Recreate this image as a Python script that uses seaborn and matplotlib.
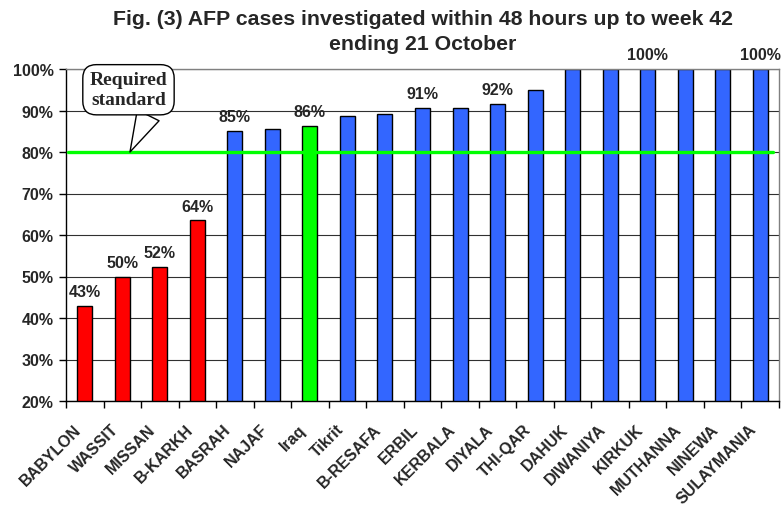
import matplotlib
matplotlib.use("Agg")
import matplotlib.pyplot as plt
import matplotlib.transforms as mtransforms
import numpy as np
import pandas as pd
import seaborn as sns
from matplotlib.ticker import FuncFormatter

# ---- data ----
categories = ["BABYLON", "WASSIT", "MISSAN", "B-KARKH", "BASRAH", "NAJAF", "Iraq",
              "Tikrit", "B-RESAFA", "ERBIL", "KERBALA", "DIYALA", "THI-QAR", "DAHUK",
              "DIWANIYA", "KIRKUK", "MUTHANNA", "NINEWA", "SULAYMANIA"]
values = [43.0, 50.0, 52.2, 63.5, 85.1, 85.6, 86.2, 88.7, 89.2, 90.7, 90.7, 91.6,
          94.9, 100, 100, 100, 100, 100, 100]
groups = ["below", "below", "below", "below", "above", "above", "national",
          "above", "above", "above", "above", "above", "above", "above",
          "above", "above", "above", "above", "above"]
value_labels = ["43%", "50%", "52%", "64%", "85%", "", "86%", "", "", "91%", "",
                "92%", "", "", "", "100%", "", "", "100%"]
required_standard = 80
y_ticks = [20, 30, 40, 50, 60, 70, 80, 90, 100]
title_lines = ["Fig. (3) AFP cases investigated within 48 hours up to week 42",
               "ending 21 October"]
callout_text = "Required\nstandard"

palette = {"below": "#FF0000", "above": "#3366FF", "national": "#00FF00"}

sns.set_theme(style="white")
plt.rcParams["font.family"] = ["Liberation Sans", "DejaVu Sans"]

W, H = 783, 506
fig = plt.figure(figsize=(W / 100, H / 100), dpi=100)
ax = fig.add_axes([66 / W, 1 - 402 / H, (779 - 66) / W, (402 - 70) / H])

df = pd.DataFrame({"region": categories, "value": values, "group": groups})
sns.barplot(data=df, x="region", y="value", hue="group", palette=palette,
            dodge=False, width=0.4, edgecolor="black", linewidth=1.0,
            saturation=1, legend=False, ax=ax)

ax.set_xlim(-0.5, len(categories) - 0.5)
ax.set_ylim(y_ticks[0], y_ticks[-1])
ax.set_yticks(y_ticks)
ax.yaxis.set_major_formatter(FuncFormatter(lambda v, p: f"{v:.0f}%"))
ax.yaxis.grid(True, color="#303030", linewidth=0.8)
ax.set_axisbelow(True)
ax.set_xlabel("")
ax.set_ylabel("")

# x ticks: marks between categories, rotated category names
ax.set_xticks(np.arange(len(categories)))
ax.set_xticklabels([""] * len(categories))
ax.tick_params(axis="x", which="major", length=0, bottom=True)
ax.set_xticks(np.arange(-0.5, len(categories), 1), minor=True)
ax.tick_params(axis="x", which="minor", length=5, width=1, color="black",
               direction="out", bottom=True)
lab_tr = ax.get_xaxis_transform() + mtransforms.ScaledTranslation(
    -0.065, -0.255, fig.dpi_scale_trans)
for i, name in enumerate(categories):
    ax.text(i, 0, name, transform=lab_tr, rotation=45, ha="right", va="center",
            rotation_mode="anchor", fontsize=11.5, fontweight="bold",
            clip_on=False)

ax.tick_params(axis="y", length=5, width=1, color="black", direction="out",
               left=True, pad=4, labelsize=11.5)
for lab in ax.get_yticklabels():
    lab.set_fontweight("bold")

for s in ["left", "bottom"]:
    ax.spines[s].set_color("black")
    ax.spines[s].set_linewidth(1)
for s in ["right", "top"]:
    ax.spines[s].set_color("#808080")
    ax.spines[s].set_linewidth(1)

# value labels
for i, (v, lab) in enumerate(zip(values, value_labels)):
    if lab:
        ax.annotate(lab, xy=(i, v), xytext=(0, 5), textcoords="offset points",
                    ha="center", va="bottom", fontsize=11.5, fontweight="bold",
                    annotation_clip=False)

# required standard line
ax.axhline(required_standard, xmin=0.003, xmax=0.992, color="#00FF00",
           linewidth=2.4, zorder=5)

# callout
ax.annotate(callout_text, xy=(1.205, required_standard), xytext=(1.165, 95.0),
            textcoords="data", ha="center", va="center",
            fontsize=14, fontweight="bold",
            family=["Liberation Serif", "DejaVu Serif"], linespacing=1.2,
            bbox=dict(boxstyle="round,pad=0.35,rounding_size=0.7", fc="white",
                      ec="black", lw=1),
            arrowprops=dict(arrowstyle="wedge,tail_width=1.25", fc="white",
                            ec="black", lw=1, relpos=(0.8, 0.0), shrinkA=0,
                            shrinkB=0),
            zorder=10)

# title (two centred lines over the plot area)
cx = (66 + 779) / 2 / W
fig.text(cx, 1 - 25 / H, title_lines[0], ha="center", va="baseline",
         fontsize=15.3, fontweight="bold")
fig.text(cx, 1 - 50 / H, title_lines[1], ha="center", va="baseline",
         fontsize=15.3, fontweight="bold")

fig.savefig("out.png", dpi=100)
